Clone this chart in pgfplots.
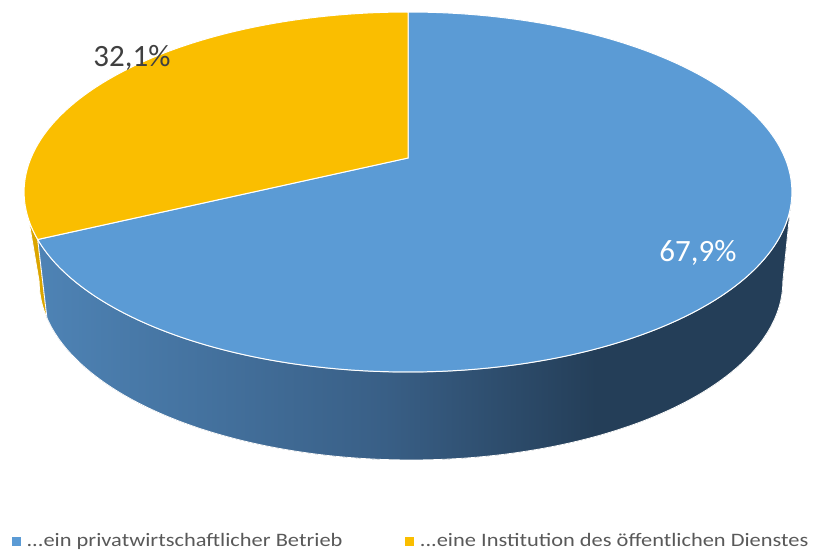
\documentclass[border=0pt]{standalone}
\usepackage{pgfplots}
\pgfplotsset{compat=1.18}
\usepgfplotslibrary{fillbetween}
\usepackage{fontspec}
\setmainfont{Carlito}
\newfontfamily\legfont[FakeStretch=1.18]{Carlito}
\definecolor{pieblue}{HTML}{5B9BD5}
\definecolor{pieyellow}{RGB}{250,190,0}
\definecolor{sideyellow}{RGB}{219,165,0}
\definecolor{sidecA}{RGB}{78,131,181}
\definecolor{sidecB}{RGB}{57,95,134}
\definecolor{sidecC}{RGB}{36,62,88}
\definecolor{legtext}{HTML}{595959}
\definecolor{labgray}{HTML}{404040}
\pgfdeclarehorizontalshading{sideblue}{100bp}{color(0bp)=(sidecA); color(25bp)=(sidecA); color(48bp)=(sidecB); color(62bp)=(sidecC); color(100bp)=(sidecC)}
% data (percent)
\def\valPriv{67.9}
\def\valOeff{32.1}
\pgfmathsetmacro{\phiB}{90+3.6*\valOeff}
% perspective parameters of the top and bottom faces
\def\TX(#1){408+377*cos(#1)/(1+0.1889*sin(#1))}
\def\TY(#1){-(-143.73*sin(#1)+158)/(1+0.1889*sin(#1))}
\def\BX(#1){411+360*cos(#1)/(1+0.25*sin(#1))}
\def\BY(#1){-(-107.8*sin(#1)+237.2)/(1+0.25*sin(#1))}
\begin{document}
\begin{tikzpicture}
\begin{axis}[
  width=816pt, height=555pt, scale only axis,
  xmin=0, xmax=816, ymin=-555, ymax=0,
  hide axis, clip=false,
  legend style={at={(axis cs:9,-541)}, anchor=west, draw=none, fill=none,
    legend columns=2, font=\legfont\fontsize{19}{19}\selectfont, text=legtext,
    /tikz/every odd column/.append style={column sep=4pt},
    /tikz/every even column/.append style={column sep=61pt}},
  legend image code/.code={\fill[#1] (0pt,-4pt) rectangle (8pt,4pt);},
]
\path (rel axis cs:0,0) rectangle (rel axis cs:1,1);
% side: yellow
\addplot[name path=ty, draw=none, forget plot, domain=190.89:\phiB, samples=40, variable=\t] ({\TX(\t)},{\TY(\t)});
\addplot[name path=by, draw=none, forget plot, domain=194.48:\phiB, samples=40, variable=\t] ({\BX(\t)},{\BY(\t)});
\addplot[fill=sideyellow, draw=white, line width=0.8pt, forget plot] fill between[of=ty and by];
% side: blue
\addplot[name path=tb, draw=none, forget plot, domain=\phiB:349.11, samples=150, variable=\t] ({\TX(\t)},{\TY(\t)});
\addplot[name path=bb, draw=none, forget plot, domain=\phiB:345.52, samples=150, variable=\t] ({\BX(\t)},{\BY(\t)});
\addplot[shade, shading=sideblue, draw=white, line width=0.8pt, forget plot] fill between[of=tb and bb];
% top face
\addplot[fill=pieblue, draw=white, line width=1pt, forget plot, domain=\phiB:450, samples=200, variable=\t] ({\TX(\t)},{\TY(\t)}) -- (axis cs:408,-158) -- cycle;
\addplot[fill=pieyellow, draw=white, line width=1pt, forget plot, domain=90:\phiB, samples=100, variable=\t] ({\TX(\t)},{\TY(\t)}) -- (axis cs:408,-158) -- cycle;
% labels
\node[text=labgray, font=\fontsize{31}{31}\selectfont] at (axis cs:132,-58) {32,1\%};
\node[text=white, font=\fontsize{31}{31}\selectfont] at (axis cs:698,-253) {67,9\%};
% legend
\addlegendimage{pieblue}
\addlegendentry{...ein privatwirtschaftlicher Betrieb}
\addlegendimage{pieyellow}
\addlegendentry{...eine Institution des öffentlichen Dienstes}
\end{axis}
\end{tikzpicture}
\end{document}
